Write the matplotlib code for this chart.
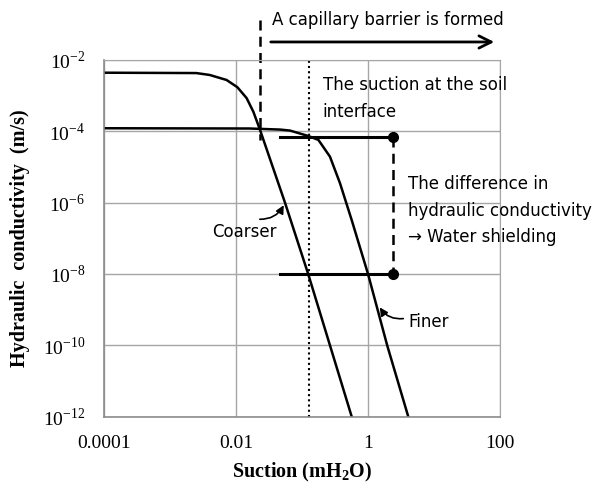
import matplotlib.pyplot as plt

# curves (suction in mH2O, conductivity in m/s)
coarser_suction = [1e-4, 2.5e-3, 4.0e-3, 7.2e-3, 1.05e-2, 1.45e-2, 1.83e-2, 2.31e-2,
                   5.52e-2, 1.24e-1, 2.65e-1, 5.66e-1]
coarser_k = [4.4e-3, 4.3e-3, 3.8e-3, 2.75e-3, 1.72e-3, 8.5e-4, 3.55e-4, 1.1e-4,
             1e-6, 1e-8, 1e-10, 1e-12]

finer_suction = [1e-4, 1.6e-2, 4.65e-2, 6.58e-2, 1.245e-1, 1.77e-1, 2.65e-1, 3.77e-1,
                 5.66e-1, 1.0, 1.95, 4.07]
finer_k = [1.22e-4, 1.2e-4, 1.12e-4, 1.05e-4, 7.4e-5, 5.75e-5, 1.95e-5, 3.47e-6,
           3.24e-7, 1e-8, 1e-10, 1e-12]

# marker lines
interface_suction = 0.128
barrier_suction = 0.0231
diff_x = [0.0464, 2.42]
diff_k_high = 7.0e-5
diff_k_low = 1e-8

x_ticks = [1e-4, 1e-2, 1, 100]
x_labels = ['0.0001', '0.01', '1', '100']
y_ticks = [1e-12, 1e-10, 1e-8, 1e-6, 1e-4, 1e-2]
y_labels = [r'10$^{\mathregular{%d}}$' % e for e in [-12, -10, -8, -6, -4, -2]]

fig = plt.figure(figsize=(5.96, 4.83), dpi=100)
ax = fig.add_axes([0.1745, 0.1373, 0.6645, 0.7385])

ax.set_xscale('log')
ax.set_yscale('log')
ax.set_xlim(1e-4, 100)
ax.set_ylim(1e-12, 1e-2)

ax.plot(coarser_suction, coarser_k, color='black', lw=1.8)
ax.plot(finer_suction, finer_k, color='black', lw=1.8)

# difference lines and dashed connector
ax.plot(diff_x, [diff_k_high, diff_k_high], color='black', lw=2.2)
ax.plot(diff_x, [diff_k_low, diff_k_low], color='black', lw=2.2)
ax.plot([diff_x[1], diff_x[1]], [diff_k_high, diff_k_low], color='black', lw=1.8,
        ls=(0, (4, 2.5)))
ax.plot([diff_x[1], diff_x[1]], [diff_k_high, diff_k_low], 'o', color='black', ms=7)

# suction at interface (dotted)
ax.axvline(interface_suction, color='black', lw=1.5, ls=(0, (1, 1.5)))

# capillary barrier marker (dashed, goes above the axes)
ax.plot([barrier_suction, barrier_suction], [0.132, 5.8e-5], color='black', lw=1.8,
        ls=(0, (4, 2.5)), clip_on=False)
ax.annotate('', xy=(90, 0.032), xytext=(0.0305, 0.032),
            arrowprops=dict(arrowstyle='->', color='black', lw=2, mutation_scale=22),
            annotation_clip=False)
ax.text(0.0351, 0.132, 'A capillary barrier is formed', fontsize=12,
        va='center', ha='left')

ax.text(0.206, 8.3e-4, 'The suction at the soil\ninterface', fontsize=12,
        va='center', ha='left', linespacing=1.6)
ax.text(4.04, 6.0e-7, 'The difference in\nhydraulic conductivity\n\u2192 Water shielding',
        fontsize=12, va='center', ha='left', linespacing=1.6)

ax.annotate('Coarser', xy=(0.0552, 1.24e-6), xytext=(0.00428, 1.55e-7),
            fontsize=12, va='center', ha='left')
ax.annotate('', xy=(0.0552, 1.0e-6), xytext=(0.0208, 3.45e-7),
            arrowprops=dict(arrowstyle='-|>', color='black', lw=1.2,
                            connectionstyle='arc3,rad=0.35', mutation_scale=12))
ax.annotate('Finer', xy=(1.43, 1.35e-9), xytext=(4.04, 4.5e-10),
            fontsize=12, va='center', ha='left')
ax.annotate('', xy=(1.43, 1.35e-9), xytext=(3.77, 5.75e-10),
            arrowprops=dict(arrowstyle='-|>', color='black', lw=1.2,
                            connectionstyle='arc3,rad=-0.35', mutation_scale=12))

ax.set_xticks(x_ticks)
ax.set_xticklabels(x_labels, fontfamily='Liberation Serif', fontsize=14)
ax.set_yticks(y_ticks)
ax.set_yticklabels(y_labels, fontfamily='Liberation Serif', fontsize=14)
ax.minorticks_off()
ax.tick_params(length=0, pad=13.5)

ax.grid(True, color='#a6a6a6', lw=1)
for side in ['top', 'right']:
    ax.spines[side].set_color('#a6a6a6')
for side in ['left', 'bottom']:
    ax.spines[side].set_color('#8c8c8c')
    ax.spines[side].set_linewidth(1.2)

ax.set_xlabel(r'Suction (mH$_\mathregular{2}$O)', fontfamily='Liberation Serif',
              fontweight='bold', fontsize=14.5, labelpad=6)
ax.set_ylabel('Hydraulic  conductivity  (m/s)', fontfamily='Liberation Serif',
              fontweight='bold', fontsize=14.5, labelpad=9)

fig.savefig('out.png', dpi=100)
